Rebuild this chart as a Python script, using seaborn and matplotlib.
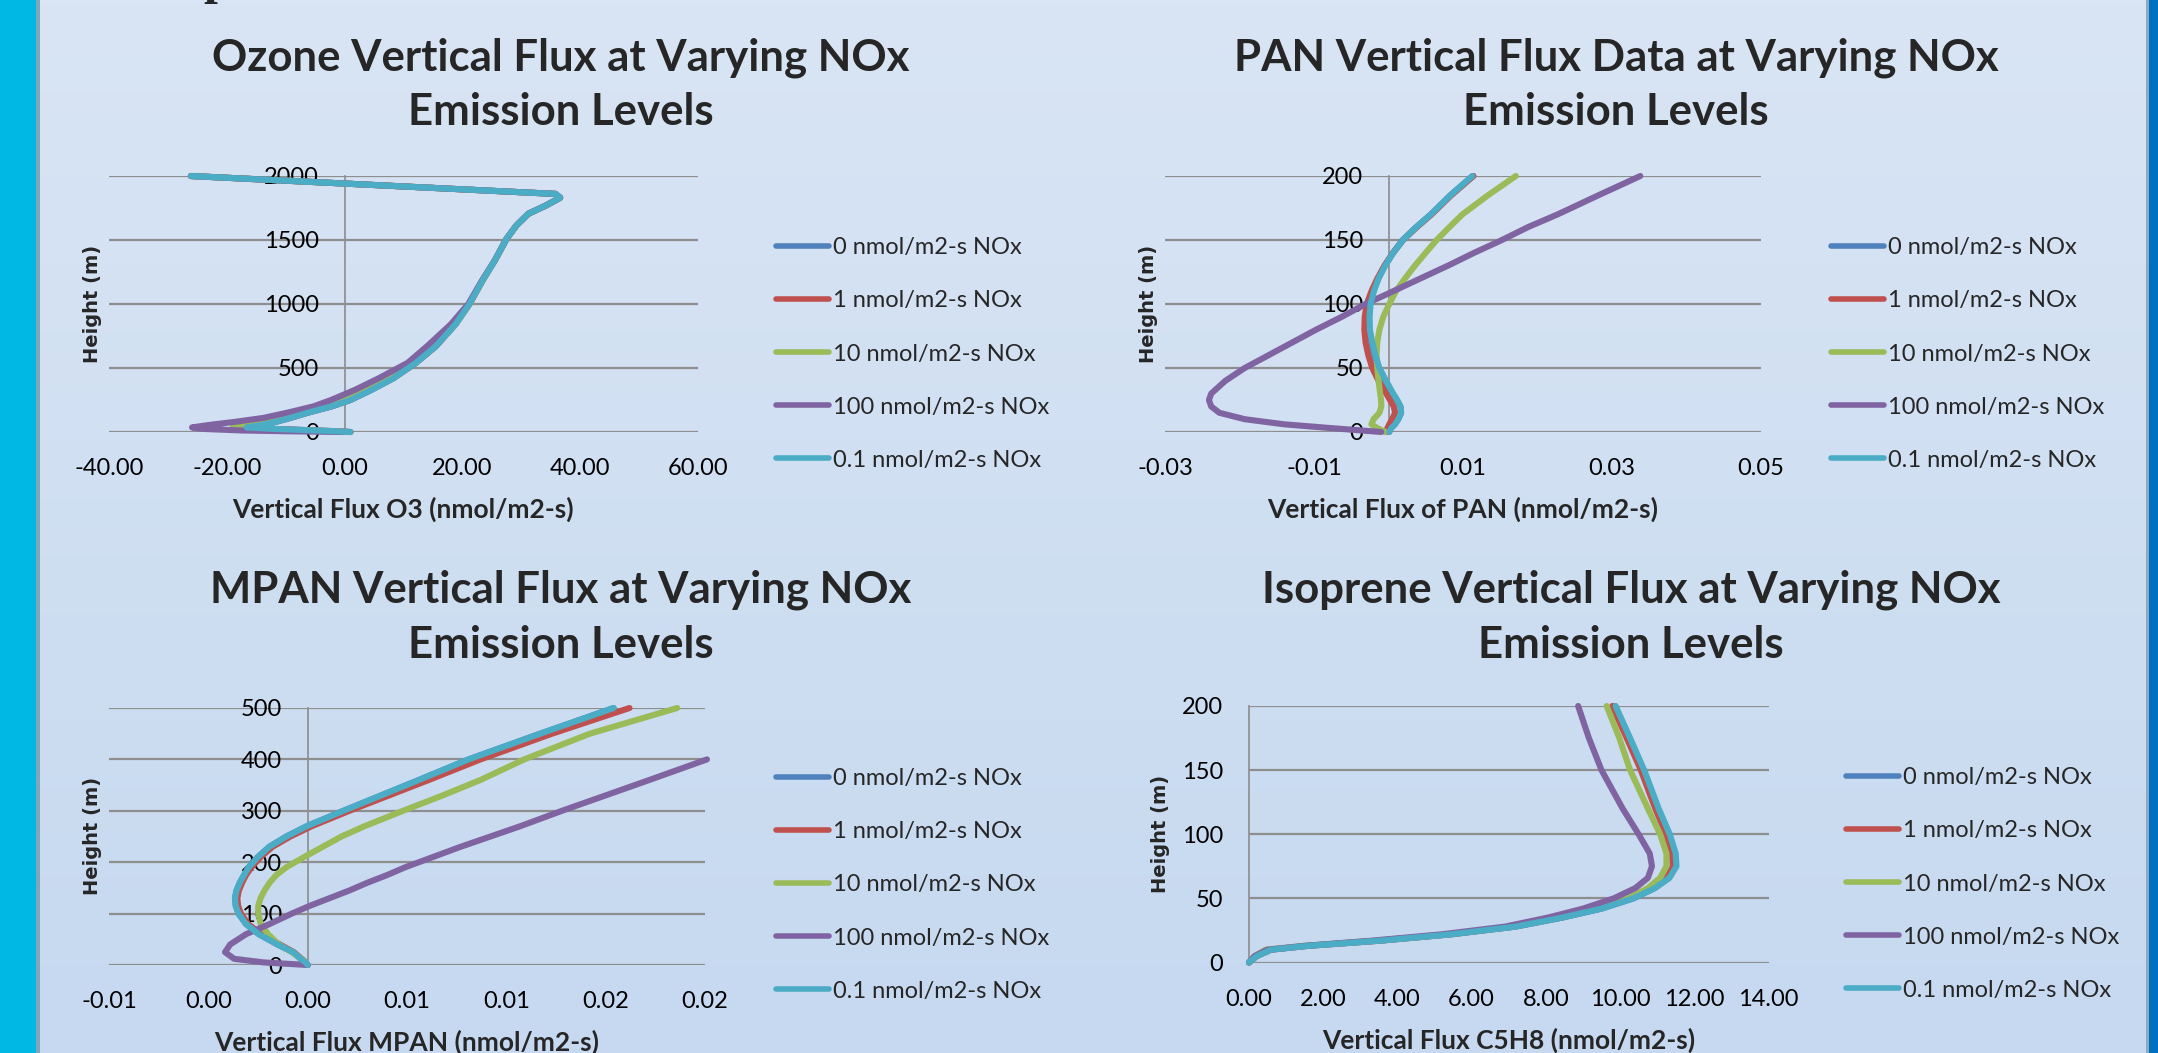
import numpy as np
import pandas as pd
import matplotlib
matplotlib.use("Agg")
import matplotlib.pyplot as plt
import seaborn as sns
from matplotlib.patches import Rectangle

# ---- data ----
series_labels = ["0 nmol/m2-s NOx", "1 nmol/m2-s NOx", "10 nmol/m2-s NOx",
                 "100 nmol/m2-s NOx", "0.1 nmol/m2-s NOx"]
series_colors = ["#4F81BD", "#C0504D", "#9BBB59", "#8064A2", "#4BACC6"]

# Ozone
o3_height = [0, 6, 12, 24, 36, 55, 80, 110, 150, 200, 250, 330, 420, 540, 670,
             840, 1000, 1190, 1340, 1510, 1615, 1705, 1770, 1830, 1860, 2000]
o3_nox0 = [1.0, -1.4, -4.8, -11.8, -16.8, -14.0, -11.6, -9.2, -6.3, -2.2, 1.0, 4.6, 8.3,
           12.1, 15.5, 18.8, 21.2, 23.5, 25.5, 27.5, 29.2, 31.2, 34.2, 36.6, 35.8, -26.1]
o3_nox1 = [1.0, -1.5, -5.2, -12.3, -17.2, -14.2, -11.8, -9.3, -6.4, -2.3, 0.9, 4.5, 8.2,
           12.1, 15.5, 18.8, 21.2, 23.5, 25.5, 27.5, 29.2, 31.2, 34.2, 36.6, 35.8, -26.1]
o3_nox10 = [0.8, -2.5, -7.5, -15.0, -19.0, -16.0, -13.0, -10.2, -7.2, -3.0, 0.2, 4.0, 7.8,
            11.9, 15.4, 18.8, 21.2, 23.5, 25.5, 27.5, 29.2, 31.2, 34.2, 36.6, 35.8, -26.1]
o3_nox100 = [-0.3, -10.0, -17.5, -24.0, -25.9, -23.0, -18.5, -13.8, -9.8, -5.3, -2.3, 1.8, 5.8,
             10.7, 14.0, 18.0, 21.0, 23.4, 25.5, 27.5, 29.2, 31.2, 34.2, 36.6, 35.8, -26.1]
o3_nox01 = [1.0, -1.5, -5.0, -12.0, -16.6, -14.0, -11.6, -9.2, -6.3, -2.2, 1.0, 4.6, 8.3,
            12.1, 15.5, 18.8, 21.2, 23.5, 25.5, 27.5, 29.2, 31.2, 34.2, 36.6, 35.8, -26.1]

# PAN
pan_height = [0, 3, 6, 10, 15, 20, 25, 30, 40, 50, 60, 70, 80, 90, 100, 110, 120,
              130, 140, 150, 160, 170, 185, 200]
pan_nox0 = [0.0001, 0.0003, 0.0008, 0.0013, 0.0017, 0.0016, 0.0011, 0.0005, -0.0004,
            -0.0013, -0.0019, -0.0023, -0.0026, -0.0026, -0.0025, -0.0020, -0.0014,
            -0.0005, 0.0006, 0.0019, 0.0037, 0.0057, 0.0083, 0.0113]
pan_nox1 = [-0.00027, -0.00015, 0.0001, 0.00047, 0.00089, 0.0007, 0.0002, -0.0003,
            -0.00133, -0.00218, -0.00271, -0.00308, -0.00324, -0.00319, -0.00292,
            -0.00229, -0.00149, -0.00053, 0.00063, 0.00196, 0.0038, 0.00578, 0.00844,
            0.01141]
pan_nox10 = [-0.00043, -0.0015, -0.00229, -0.0020, -0.00122, -0.00096, -0.0010, -0.00112,
             -0.00133, -0.0015, -0.0016, -0.0015, -0.00122, -0.0007, 0.0001, 0.0010,
             0.00223, 0.00355, 0.00499, 0.00647, 0.00817, 0.00992, 0.01337, 0.01709]
pan_nox100 = [-0.00096, -0.0076, -0.0140, -0.0193, -0.0227, -0.0238, -0.0241, -0.0238,
              -0.0219, -0.0193, -0.0161, -0.0129, -0.0097, -0.00627, -0.00308, 0.00063,
              0.0043, 0.0080, 0.0115, 0.01523, 0.0187, 0.0227, 0.0282, 0.0338]
pan_nox01 = [0.0001, 0.00037, 0.0009, 0.00132, 0.0017, 0.0016, 0.00117, 0.00063, -0.00032,
             -0.00122, -0.00176, -0.00218, -0.0025, -0.00255, -0.0024, -0.00197, -0.00133,
             -0.00043, 0.00063, 0.00196, 0.00371, 0.00568, 0.00833, 0.01125]

# MPAN
mpan_height = [0, 5, 12, 25, 40, 60, 80, 100, 115, 130, 145, 160, 175, 190, 210, 230,
               250, 270, 300, 330, 360, 400, 450, 500]
mpan_nox0 = [0.0, -0.0001, -0.00035, -0.00073, -0.00152, -0.00246, -0.00311, -0.00348,
             -0.00362, -0.00366, -0.00358, -0.00342, -0.00320, -0.00297, -0.00251,
             -0.00193, -0.00107, -0.00005, 0.0018, 0.0037, 0.0056, 0.0081, 0.0117, 0.0154]
mpan_nox1 = [0.0, -0.0001, -0.0003, -0.0007, -0.0014, -0.00235, -0.0030, -0.00336,
             -0.0035, -0.00354, -0.00346, -0.0033, -0.0031, -0.00283, -0.00237, -0.00177,
             -0.00087, 0.0002, 0.0021, 0.0041, 0.0061, 0.0087, 0.0123, 0.0162]
mpan_nox10 = [0.0, -0.0001, -0.00032, -0.0008, -0.00145, -0.0020, -0.00236, -0.00249,
              -0.00249, -0.00237, -0.00217, -0.00192, -0.00158, -0.00108, -0.00018,
              0.00076, 0.0017, 0.00286, 0.0048, 0.0068, 0.0087, 0.0109, 0.0142, 0.0186]
mpan_nox100 = [0.0, -0.0022, -0.0037, -0.00416, -0.0039, -0.0031, -0.0019, -0.0008,
               0.0001, 0.0011, 0.0021, 0.0030, 0.0040, 0.0049, 0.0063, 0.0077, 0.0092,
               0.0107, 0.0128, 0.0150, 0.0172, 0.0201, np.nan, np.nan]
mpan_nox01 = [0.0, -0.0001, -0.00035, -0.00073, -0.00152, -0.00246, -0.00311, -0.00348,
              -0.00362, -0.00366, -0.00358, -0.00342, -0.00320, -0.00297, -0.00251,
              -0.00193, -0.00107, -0.00005, 0.0018, 0.0037, 0.0056, 0.0081, 0.0117, 0.0154]

# Isoprene
c5h8_height = [0, 5, 10, 13, 17, 22, 28, 35, 42, 50, 58, 66, 75, 85, 100, 120,
               150, 175, 200]
c5h8_nox0 = [0, 0.21, 0.6, 1.6, 3.53, 5.46, 7.19, 8.44, 9.5, 10.36, 10.93, 11.32, 11.5,
             11.48, 11.32, 11.02, 10.63, 10.25, 9.86]
c5h8_nox1 = [0, 0.2, 0.58, 1.58, 3.5, 5.42, 7.15, 8.4, 9.45, 10.3, 10.86, 11.24, 11.42,
             11.4, 11.24, 10.95, 10.56, 10.18, 9.79]
c5h8_nox10 = [0, 0.15, 0.45, 1.5, 3.4, 5.35, 7.1, 8.35, 9.4, 10.22, 10.75, 11.08, 11.25,
              11.25, 11.08, 10.75, 10.27, 9.98, 9.64]
c5h8_nox100 = [0, 0.15, 0.5, 1.5, 3.3, 5.2, 6.9, 8.05, 9.0, 9.83, 10.41, 10.75, 10.86,
               10.8, 10.5, 10.07, 9.5, 9.16, 8.87]
c5h8_nox01 = [0, 0.21, 0.6, 1.6, 3.53, 5.46, 7.19, 8.44, 9.5, 10.36, 10.94, 11.33, 11.52,
              11.5, 11.34, 11.04, 10.65, 10.27, 9.88]

# axes ticks / labels
o3_xticks = [-40, -20, 0, 20, 40, 60]
o3_xticklabels = ["-40.00", "-20.00", "0.00", "20.00", "40.00", "60.00"]
o3_yticks = [0, 500, 1000, 1500, 2000]
pan_xticks = [-0.03, -0.01, 0.01, 0.03, 0.05]
pan_xticklabels = ["-0.03", "-0.01", "0.01", "0.03", "0.05"]
pan_yticks = [0, 50, 100, 150, 200]
mpan_xticks = [-0.01, -0.005, 0.0, 0.005, 0.01, 0.015, 0.02]
mpan_xticklabels = ["-0.01", "0.00", "0.00", "0.01", "0.01", "0.02", "0.02"]
mpan_yticks = [0, 100, 200, 300, 400, 500]
c5h8_xticks = [0, 2, 4, 6, 8, 10, 12, 14]
c5h8_xticklabels = ["0.00", "2.00", "4.00", "6.00", "8.00", "10.00", "12.00", "14.00"]
c5h8_yticks = [0, 50, 100, 150, 200]

titles = [("Ozone Vertical Flux at Varying NOx", "Emission Levels"),
          ("PAN Vertical Flux Data at Varying NOx", "Emission Levels"),
          ("MPAN Vertical Flux at Varying NOx", "Emission Levels"),
          ("Isoprene Vertical Flux at Varying NOx", "Emission Levels")]
xlabels = ["Vertical Flux O3 (nmol/m2-s)", "Vertical Flux of PAN (nmol/m2-s)",
           "Vertical Flux MPAN (nmol/m2-s)", "Vertical Flux C5H8 (nmol/m2-s)"]

# ---- figure ----
W, H = 2158, 1053
sns.set_style("white")
plt.rcParams["font.family"] = ["Lato", "DejaVu Sans"]
fig = plt.figure(figsize=(W / 100, H / 100), dpi=100)


def fx(px):
    return px / W


def fy(py):
    return 1 - py / H


# background gradient + side bars
bg = fig.add_axes([0, 0, 1, 1], zorder=-10)
grad = np.linspace(0, 1, 256)[:, None]
top_c = np.array([217, 229, 244]) / 255
bot_c = np.array([198, 217, 240]) / 255
bg.imshow(top_c + (bot_c - top_c) * grad[..., None], aspect="auto",
          extent=[0, 1, 0, 1], origin="upper")
bg.add_patch(Rectangle((0, 0), fx(36), 1, color="#00B8E4", lw=0))
bg.add_patch(Rectangle((fx(36), 0), fx(4), 1, color="#7FA7BC", lw=0))
bg.add_patch(Rectangle((fx(2146), 0), fx(3), 1, color="#8FA9C0", lw=0))
bg.add_patch(Rectangle((fx(2149), 0), fx(9), 1, color="#0070C0", lw=0))
bg.set_xlim(0, 1)
bg.set_ylim(0, 1)
bg.axis("off")

# heading cut off by the top edge in the reference
fig.text(fx(203), fy(-7), "p", family="Liberation Serif", weight="bold",
         fontsize=36, va="baseline", ha="left")

panels = [
    dict(h=o3_height, vals=[o3_nox0, o3_nox1, o3_nox10, o3_nox100, o3_nox01],
         box=(109, 176, 698, 432), xlim=(-40, 60), xt=o3_xticks, xtl=o3_xticklabels,
         yt=o3_yticks, title_x=561, title_y=(70, 125), xlab_xy=(403, 509),
         ylab_xy=(92, 304), leg_xy=(776, 354)),
    dict(h=pan_height, vals=[pan_nox0, pan_nox1, pan_nox10, pan_nox100, pan_nox01],
         box=(1165, 176, 1761, 432), xlim=(-0.03, 0.05), xt=pan_xticks,
         xtl=pan_xticklabels, yt=pan_yticks, title_x=1616, title_y=(70, 125),
         xlab_xy=(1463, 509), ylab_xy=(1148, 304), leg_xy=(1831, 354)),
    dict(h=mpan_height, vals=[mpan_nox0, mpan_nox1, mpan_nox10, mpan_nox100, mpan_nox01],
         box=(109, 708, 705, 965), xlim=(-0.01, 0.02), xt=mpan_xticks,
         xtl=mpan_xticklabels, yt=mpan_yticks, title_x=561, title_y=(603, 658),
         xlab_xy=(407, 1042), ylab_xy=(92, 836), leg_xy=(776, 885)),
    dict(h=c5h8_height, vals=[c5h8_nox0, c5h8_nox1, c5h8_nox10, c5h8_nox100, c5h8_nox01],
         box=(1249, 706, 1768.5, 962.5), xlim=(0, 14), xt=c5h8_xticks,
         xtl=c5h8_xticklabels, yt=c5h8_yticks, title_x=1631, title_y=(603, 658),
         xlab_xy=(1509, 1040), ylab_xy=(1160, 834), leg_xy=(1846, 884)),
]

for i, p in enumerate(panels):
    l, t, r, b = p["box"]
    ax = fig.add_axes([fx(l), fy(b), (r - l) / W, (b - t) / H])
    ax.set_facecolor("none")

    frames = []
    for lab, v in zip(series_labels, p["vals"]):
        frames.append(pd.DataFrame({"flux": v, "height": p["h"], "series": lab}))
    df = pd.concat(frames, ignore_index=True).dropna()

    sns.lineplot(data=df, x="flux", y="height", hue="series", hue_order=series_labels,
                 palette=series_colors, sort=False, estimator=None, linewidth=4.4,
                 solid_capstyle="round", solid_joinstyle="round", ax=ax)
    for ln in ax.get_lines():
        ln.set_clip_on(False)

    ax.set_xlim(*p["xlim"])
    ax.set_ylim(p["yt"][0], p["yt"][-1])
    ax.set_xticks(p["xt"])
    ax.set_xticklabels(p["xtl"])
    ax.set_yticks(p["yt"])
    ax.set_yticklabels([str(v) for v in p["yt"]])
    ax.tick_params(axis="both", length=0, labelsize=17, colors="black")
    ax.tick_params(axis="y", pad=18.5)
    ax.tick_params(axis="x", pad=19)
    ax.set_xlabel("")
    ax.set_ylabel("")

    for s in ["top", "right", "bottom"]:
        ax.spines[s].set_visible(False)
    ax.spines["left"].set_position(("data", 0))
    ax.spines["left"].set_color("#8C8C8C")
    ax.spines["left"].set_linewidth(1.2)
    ax.spines["left"].set_zorder(0.5)
    ax.yaxis.grid(True, color="#8E8E8E", linewidth=1.6)
    ax.xaxis.grid(False)
    ax.set_axisbelow(True)

    handles, labels = ax.get_legend_handles_labels()
    leg = ax.legend(handles, labels, loc="center left",
                    bbox_to_anchor=(fx(p["leg_xy"][0]), fy(p["leg_xy"][1])),
                    bbox_transform=fig.transFigure, frameon=False, fontsize=17,
                    handlelength=2.25, handletextpad=0.15, labelspacing=1.36,
                    borderpad=0, borderaxespad=0)
    for h in leg.legend_handles:
        h.set_linewidth(4.0)
        h.set_solid_capstyle("round")

    for line_txt, ty in zip(titles[i], p["title_y"]):
        fig.text(fx(p["title_x"]), fy(ty), line_txt, ha="center", va="baseline",
                 fontsize=31.5, weight="bold")
    fig.text(fx(p["xlab_xy"][0]), fy(p["xlab_xy"][1]), xlabels[i], ha="center",
             va="center", fontsize=19, weight="bold")
    fig.text(fx(p["ylab_xy"][0]), fy(p["ylab_xy"][1]), "Height (m)", ha="center",
             va="center", rotation=90, fontsize=14, weight="bold",
             family="DejaVu Sans")

fig.savefig("out.png", dpi=100)
